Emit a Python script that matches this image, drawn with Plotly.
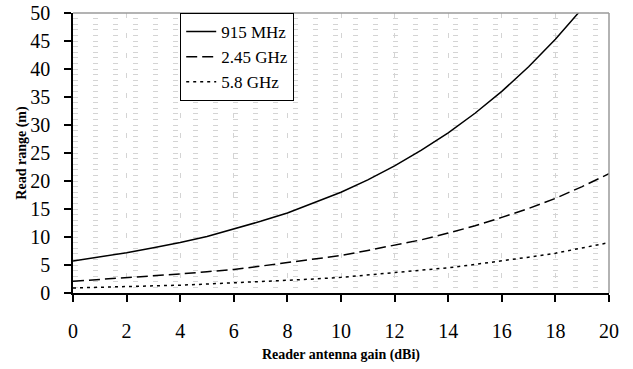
import plotly.graph_objects as go

gain_dbi = [0, 1, 2, 3, 4, 5, 6, 7, 8, 9, 10, 11, 12, 13, 14, 15, 16, 17, 18, 19, 20]
range_915mhz = [5.7, 6.4, 7.2, 8.1, 9.0, 10.1, 11.4, 12.8, 14.3, 16.1, 18.0, 20.2, 22.7,
                25.5, 28.6, 32.1, 36.0, 40.4, 45.3, 50.8, 57.0]
range_245ghz = [2.1, 2.4, 2.7, 3.0, 3.4, 3.8, 4.2, 4.8, 5.4, 6.0, 6.7, 7.6, 8.5,
                9.5, 10.7, 12.0, 13.5, 15.1, 16.9, 19.0, 21.3]
range_58ghz = [0.9, 1.0, 1.1, 1.3, 1.4, 1.6, 1.8, 2.0, 2.3, 2.5, 2.8, 3.2, 3.6,
               4.0, 4.5, 5.1, 5.7, 6.4, 7.1, 8.0, 9.0]
series_names = ["915 MHz", "2.45 GHz", "5.8 GHz"]

SERIF = "Liberation Serif"
GRID = "#d4d4d4"

fig = go.Figure()
fig.add_trace(go.Scatter(x=gain_dbi, y=range_915mhz, mode="lines", name=series_names[0],
                         line=dict(color="black", width=1.5, dash="solid")))
fig.add_trace(go.Scatter(x=gain_dbi, y=range_245ghz, mode="lines", name=series_names[1],
                         line=dict(color="black", width=1.5, dash="11px,5px")))
fig.add_trace(go.Scatter(x=gain_dbi, y=range_58ghz, mode="lines", name=series_names[2],
                         line=dict(color="black", width=1.5, dash="3px,4px")))

fig.update_layout(
    width=633, height=369,
    margin=dict(l=73, r=24, t=13, b=76, autoexpand=False),
    paper_bgcolor="white", plot_bgcolor="white",
    font=dict(family=SERIF, color="black"),
    legend=dict(x=0.2, y=1.0, xanchor="left", yanchor="top",
                bordercolor="black", borderwidth=1, bgcolor="white",
                font=dict(family=SERIF, size=17, color="black"),
                tracegroupgap=0),
    xaxis=dict(range=[0, 20], dtick=2, tick0=0, automargin=False,
               showline=True, linecolor="black", linewidth=1.5,
               ticks="outside", ticklen=7, tickwidth=1.5, tickcolor="black",
               tickfont=dict(family=SERIF, size=20, color="black"),
               ticklabelstandoff=12,
               showgrid=True, gridcolor=GRID, gridwidth=1, griddash="5px,15px",
               zeroline=False,
               title=dict(text="<b>Reader antenna gain (dBi)</b>",
                          font=dict(family=SERIF, size=14, color="black"),
                          standoff=8)),
    yaxis=dict(range=[0, 50], dtick=5, tick0=0, automargin=False,
               showline=True, linecolor="black", linewidth=1.5,
               ticks="outside", ticklen=7, tickwidth=1.5, tickcolor="black",
               tickfont=dict(family=SERIF, size=20, color="black"),
               ticklabelstandoff=10,
               showgrid=True, gridcolor=GRID, gridwidth=1, griddash="5px,15px",
               minor=dict(dtick=1, showgrid=True, gridcolor=GRID, gridwidth=1,
                          griddash="5px,15px", ticks=""),
               zeroline=False,
               title=dict(text="<b>Read range (m)</b>",
                          font=dict(family=SERIF, size=14, color="black"),
                          standoff=0)),
    shapes=[
        dict(type="line", xref="x domain", yref="y domain", x0=0, x1=1, y0=1, y1=1,
             line=dict(color="#9a9a9a", width=1.5)),
        dict(type="line", xref="x domain", yref="y domain", x0=1, x1=1, y0=0, y1=1,
             line=dict(color="#9a9a9a", width=1.5)),
    ],
)

fig.write_html("out.html")
